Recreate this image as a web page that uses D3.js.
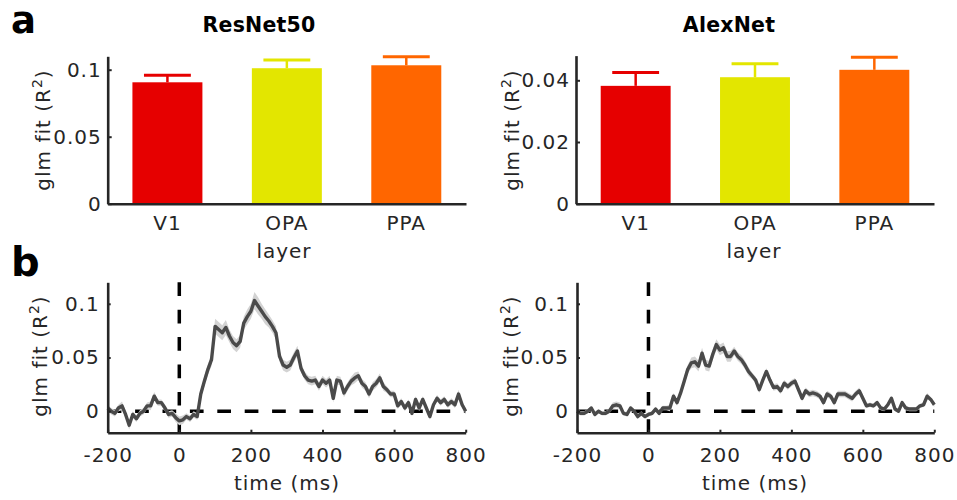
<!DOCTYPE html>
<html>
<head>
<meta charset="utf-8">
<script src="https://cdn.jsdelivr.net/npm/d3@7"></script>
<style>
  body { margin: 0; background: #fff; }
  svg { display: block; }
</style>
</head>
<body>
<svg id="fig" width="957" height="500"></svg>
<script>
// ---- data ----
const layers = ["V1", "OPA", "PPA"];
const layerColors = ["#e60000", "#e3e600", "#ff6600"];

const resnetFit = [0.0906, 0.1011, 0.1033];
const resnetErr = [0.0052, 0.0061, 0.0064];
const alexnetFit = [0.0382, 0.0410, 0.0434];
const alexnetErr = [0.0043, 0.0044, 0.0041];

const resnetTicks = [0, 0.05, 0.1];
const alexnetTicks = [0, 0.02, 0.04];
const timeTicks = [-200, 0, 200, 400, 600, 800];
const timeTickLabels = ["-200", "0", "200", "400", "600", "800"];
const timeFitTicks = [0, 0.05, 0.1];

const timeMs = [
  -200, -190, -180, -170, -160, -150, -140, -130, -120, -110,
  -100, -90, -80, -70, -60, -50, -40, -30, -20, -10,
  0, 10, 20, 30, 40, 50, 60, 70, 80, 90,
  100, 110, 120, 130, 140, 150, 160, 170, 180, 190,
  200, 210, 220, 230, 240, 250, 260, 270, 280, 290,
  300, 310, 320, 330, 340, 350, 360, 370, 380, 390,
  400, 410, 420, 430, 440, 450, 460, 470, 480, 490,
  500, 510, 520, 530, 540, 550, 560, 570, 580, 590,
  600, 610, 620, 630, 640, 650, 660, 670, 680, 690,
  700, 710, 720, 730, 740, 750, 760, 770, 780, 790,
  800
];

const resnetTime = [
  0.003, 0.000, -0.002, 0.003, 0.005, -0.003, -0.013, -0.003, -0.007, -0.002,
  0.000, 0.005, 0.005, 0.014, 0.008, 0.008, 0.003, -0.003, -0.002, -0.006,
  -0.009, -0.008, -0.005, -0.007, -0.003, -0.005, 0.016, 0.028, 0.039, 0.048,
  0.079, 0.076, 0.073, 0.078, 0.070, 0.064, 0.061, 0.065, 0.082, 0.088,
  0.093, 0.103, 0.098, 0.093, 0.088, 0.084, 0.079, 0.073, 0.051, 0.043,
  0.041, 0.043, 0.050, 0.056, 0.040, 0.033, 0.029, 0.028, 0.029, 0.023,
  0.029, 0.026, 0.029, 0.012, 0.029, 0.028, 0.017, 0.023, 0.028, 0.031,
  0.033, 0.026, 0.023, 0.016, 0.023, 0.026, 0.031, 0.023, 0.020, 0.016,
  0.016, 0.005, 0.009, 0.003, 0.008, -0.002, 0.011, 0.003, 0.011, 0.003,
  -0.005, 0.006, 0.012, 0.008, 0.011, 0.006, 0.009, 0.006, 0.016, 0.006,
  0.000
];
const resnetSem = [
  0.003, 0.003, 0.003, 0.003, 0.004, 0.003, 0.004, 0.003, 0.003, 0.003,
  0.003, 0.003, 0.004, 0.004, 0.003, 0.003, 0.003, 0.003, 0.003, 0.004,
  0.004, 0.004, 0.003, 0.003, 0.003, 0.003, 0.004, 0.005, 0.005, 0.006,
  0.007, 0.007, 0.007, 0.007, 0.006, 0.006, 0.006, 0.006, 0.006, 0.007,
  0.007, 0.008, 0.008, 0.007, 0.007, 0.006, 0.006, 0.006, 0.005, 0.005,
  0.005, 0.005, 0.005, 0.005, 0.004, 0.004, 0.004, 0.004, 0.004, 0.004,
  0.004, 0.004, 0.004, 0.004, 0.004, 0.004, 0.004, 0.004, 0.004, 0.005,
  0.004, 0.004, 0.004, 0.004, 0.004, 0.004, 0.004, 0.004, 0.003, 0.003,
  0.003, 0.003, 0.003, 0.003, 0.003, 0.003, 0.003, 0.003, 0.003, 0.003,
  0.003, 0.003, 0.003, 0.003, 0.003, 0.003, 0.003, 0.003, 0.004, 0.003,
  0.003
];

const alexnetTime = [
  0.000, -0.002, -0.002, 0.000, 0.003, -0.003, 0.000, -0.002, -0.002, 0.000,
  0.005, 0.006, 0.005, -0.002, -0.003, 0.003, 0.000, -0.005, -0.002, -0.005,
  -0.003, -0.002, 0.002, -0.002, 0.003, 0.003, 0.003, 0.014, 0.008, 0.017,
  0.028, 0.039, 0.045, 0.046, 0.042, 0.054, 0.043, 0.042, 0.053, 0.062,
  0.057, 0.059, 0.051, 0.051, 0.056, 0.051, 0.048, 0.043, 0.037, 0.033,
  0.029, 0.020, 0.029, 0.037, 0.029, 0.022, 0.023, 0.019, 0.026, 0.023,
  0.026, 0.028, 0.020, 0.012, 0.019, 0.016, 0.017, 0.016, 0.014, 0.008,
  0.016, 0.014, 0.008, 0.016, 0.016, 0.016, 0.014, 0.012, 0.016, 0.019,
  0.012, 0.005, 0.006, 0.005, 0.008, 0.003, 0.002, 0.006, 0.012, 0.002,
  0.000, 0.008, 0.003, 0.002, 0.002, 0.002, 0.005, 0.006, 0.014, 0.011,
  0.006
];
const alexnetSem = [
  0.002, 0.002, 0.002, 0.002, 0.002, 0.002, 0.002, 0.002, 0.002, 0.002,
  0.003, 0.003, 0.003, 0.002, 0.002, 0.002, 0.002, 0.002, 0.002, 0.002,
  0.002, 0.002, 0.002, 0.002, 0.002, 0.002, 0.003, 0.003, 0.003, 0.003,
  0.004, 0.004, 0.005, 0.005, 0.005, 0.005, 0.005, 0.005, 0.005, 0.005,
  0.005, 0.005, 0.005, 0.005, 0.004, 0.004, 0.004, 0.004, 0.004, 0.003,
  0.003, 0.003, 0.003, 0.003, 0.003, 0.003, 0.003, 0.003, 0.003, 0.003,
  0.003, 0.003, 0.003, 0.003, 0.003, 0.003, 0.003, 0.003, 0.003, 0.003,
  0.003, 0.003, 0.003, 0.003, 0.003, 0.003, 0.003, 0.003, 0.003, 0.003,
  0.002, 0.002, 0.002, 0.002, 0.002, 0.002, 0.002, 0.002, 0.002, 0.002,
  0.002, 0.002, 0.002, 0.002, 0.002, 0.002, 0.002, 0.002, 0.003, 0.002,
  0.002
];

// ---- styling ----
const FONT = "'DejaVu Sans', sans-serif";
const INK = "#262626";
const svg = d3.select("#fig");

function styleAxis(g) {
  g.attr("font-family", null).attr("font-size", null);
  g.select(".domain").attr("stroke", INK).attr("stroke-width", 2.6);
  g.selectAll(".tick line").attr("stroke", INK).attr("stroke-width", 2);
  g.selectAll(".tick text")
    .attr("fill", INK)
    .style("font-family", FONT)
    .style("font-size", "20px")
    .style("letter-spacing", "1px");
}

function yLabel(x, y) {
  const t = svg.append("text")
    .attr("transform", `translate(${x},${y}) rotate(-90)`)
    .attr("text-anchor", "middle")
    .attr("fill", INK)
    .style("font-family", FONT)
    .style("font-size", "20px")
    .style("letter-spacing", "1px");
  t.append("tspan").text("glm fit (R");
  t.append("tspan").attr("dy", -8).style("font-size", "14px").text("2");
  t.append("tspan").attr("dy", 8).text(")");
}

function textAt(x, y, str, opts = {}) {
  return svg.append("text")
    .attr("x", x).attr("y", y)
    .attr("text-anchor", opts.anchor || "middle")
    .attr("fill", opts.fill || INK)
    .style("font-family", FONT)
    .style("font-size", (opts.size || 20) + "px")
    .style("font-weight", opts.weight || "normal")
    .style("letter-spacing", opts.spacing == null ? "1px" : opts.spacing)
    .text(str);
}

// ---- bar panels ----
function barPanel(cfg) {
  const x = d3.scaleBand().domain(layers).range([cfg.x0, cfg.x1])
    .paddingInner(0.414).paddingOuter(0.207);
  const y = d3.scaleLinear().domain([0, cfg.ymax]).range([203.7, 203.7 - cfg.ymax * cfg.pxPerUnit]);
  const rows = layers.map((l, i) => ({ l, v: cfg.fit[i], e: cfg.err[i], c: layerColors[i] }));

  const g = svg.append("g");
  g.selectAll("rect.bar").data(rows).join("rect")
    .attr("class", "bar")
    .attr("x", d => x(d.l)).attr("width", x.bandwidth())
    .attr("y", d => y(d.v)).attr("height", d => y(0) - y(d.v))
    .attr("fill", d => d.c);

  const capHalf = x.bandwidth() * 0.335;
  g.selectAll("line.stem").data(rows).join("line")
    .attr("class", "stem")
    .attr("x1", d => x(d.l) + x.bandwidth() / 2).attr("x2", d => x(d.l) + x.bandwidth() / 2)
    .attr("y1", d => y(d.v)).attr("y2", d => y(d.v + d.e))
    .attr("stroke", d => d.c).attr("stroke-width", 2.5);
  g.selectAll("line.cap").data(rows).join("line")
    .attr("class", "cap")
    .attr("x1", d => x(d.l) + x.bandwidth() / 2 - capHalf).attr("x2", d => x(d.l) + x.bandwidth() / 2 + capHalf)
    .attr("y1", d => y(d.v + d.e)).attr("y2", d => y(d.v + d.e))
    .attr("stroke", d => d.c).attr("stroke-width", 3);

  svg.append("g").attr("transform", `translate(0,${y(0)})`)
    .call(d3.axisBottom(x).tickSizeInner(0).tickSizeOuter(0).tickPadding(12))
    .call(styleAxis);
  svg.append("g").attr("transform", `translate(${cfg.x0},0)`)
    .call(d3.axisLeft(y).tickValues(cfg.ticks).tickFormat(d3.format("~g"))
      .tickSizeInner(-4).tickSizeOuter(0).tickPadding(6))
    .call(styleAxis);

  textAt(cfg.titleX, 32, cfg.title, { weight: "bold", size: 20.5, fill: "#000", spacing: "0.2px" });
  textAt(cfg.layerX, 258, "layer");
  yLabel(cfg.yLabelX, 130);
}

barPanel({ x0: 107.7, x1: 466, ymax: 0.11, pxPerUnit: 1340, fit: resnetFit, err: resnetErr,
  ticks: resnetTicks, title: "ResNet50", titleX: 259, layerX: 284, yLabelX: 50 });
barPanel({ x0: 576, x1: 934, ymax: 0.048, pxPerUnit: 3085, fit: alexnetFit, err: alexnetErr,
  ticks: alexnetTicks, title: "AlexNet", titleX: 729, layerX: 754, yLabelX: 519 });

// ---- time-course panels ----
function timePanel(cfg) {
  const x = d3.scaleLinear().domain([-200, 800]).range([cfg.x0, cfg.x1]);
  const y = d3.scaleLinear().domain([-0.02, 0.12]).range([432.7, 282.3]);
  const pts = timeMs.map((t, i) => ({ t, v: cfg.vals[i], s: cfg.sem[i] }));

  const dash = { stroke: "#000", width: 3.5, array: "13.7,13.7" };
  svg.append("line")
    .attr("x1", x(-200)).attr("x2", x(800)).attr("y1", y(0)).attr("y2", y(0))
    .attr("stroke", dash.stroke).attr("stroke-width", dash.width).attr("stroke-dasharray", dash.array);
  svg.append("line")
    .attr("x1", x(0)).attr("x2", x(0)).attr("y1", y(0.12)).attr("y2", y(-0.02))
    .attr("stroke", dash.stroke).attr("stroke-width", dash.width).attr("stroke-dasharray", dash.array);

  svg.append("path").datum(pts)
    .attr("d", d3.area().x(d => x(d.t)).y0(d => y(d.v - d.s)).y1(d => y(d.v + d.s)))
    .attr("fill", "#d3d3d3");
  svg.append("path").datum(pts)
    .attr("d", d3.line().x(d => x(d.t)).y(d => y(d.v)))
    .attr("fill", "none").attr("stroke", "#4a4a4a").attr("stroke-width", 3.4)
    .attr("stroke-linejoin", "round");

  svg.append("g").attr("transform", `translate(0,${y(-0.02)})`)
    .call(d3.axisBottom(x).tickValues(timeTicks).tickFormat((d, i) => timeTickLabels[i])
      .tickSizeInner(-3).tickSizeOuter(0).tickPadding(15))
    .call(styleAxis);
  svg.append("g").attr("transform", `translate(${cfg.x0},0)`)
    .call(d3.axisLeft(y).tickValues(timeFitTicks).tickFormat(d3.format("~g"))
      .tickSizeInner(-3).tickSizeOuter(0).tickPadding(8))
    .call(styleAxis);

  textAt(cfg.timeLabelX, 490, "time (ms)");
  yLabel(cfg.yLabelX, 356);
}

timePanel({ x0: 107.7, x1: 465.7, vals: resnetTime, sem: resnetSem, timeLabelX: 287, yLabelX: 47 });
timePanel({ x0: 577, x1: 934.3, vals: alexnetTime, sem: alexnetSem, timeLabelX: 755, yLabelX: 518 });

// ---- panel letters ----
textAt(11, 33, "a", { anchor: "start", weight: "bold", size: 37, fill: "#000", spacing: "0px" });
textAt(11, 276, "b", { anchor: "start", weight: "bold", size: 40, fill: "#000", spacing: "0px" });
</script>
</body>
</html>
